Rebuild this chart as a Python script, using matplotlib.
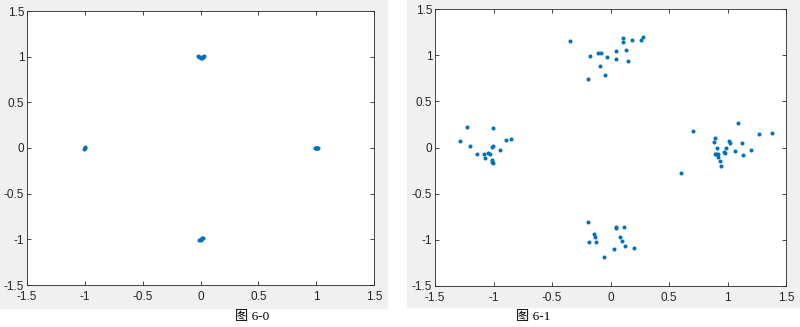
import matplotlib
matplotlib.use("Agg")
import matplotlib.pyplot as plt
from matplotlib.patches import Rectangle
from matplotlib.ticker import FuncFormatter

plt.rcParams['axes.unicode_minus'] = False

# 图 6-0 : 四个紧密的点团
x0 = [-0.02, -0.01, 0.0, 0.01, 0.02, 0.03, 0.025, 0.005,
      0.99, 1.0, 1.01, 1.02, 1.0, 1.01,
      -1.005, -1.0, -0.995,
      -0.01, 0.0, 0.01, 0.02, 0.005]
y0 = [1.005, 0.995, 0.99, 0.99, 0.995, 1.005, 1.0, 0.995,
      0.0, 0.005, 0.003, 0.0, -0.005, -0.004,
      -0.01, 0.0, 0.01,
      -1.005, -1.0, -0.99, -0.985, -1.01]

# 图 6-1 : 分散的点团
x1 = [-0.348, -0.177, -0.191, -0.111, -0.080, -0.088, -0.043, -0.029, 0.043,
      0.046, 0.108, 0.111, 0.131, 0.146, 0.188, 0.257, 0.280,
      -1.287, -1.224, -1.204, -1.141, -1.081, -1.073, -1.050, -1.030, -1.016,
      -1.007, -1.016, -1.010, -1.007, -1.001, -0.942, -0.896, -0.853,
      0.605, 0.702, 0.884, 0.893, 0.910, 0.896, 0.904, 0.919, 0.916, 0.939,
      0.947, 0.973, 0.981, 0.984, 1.010, 1.022, 1.064, 1.087, 1.121, 1.133,
      1.201, 1.270, 1.381,
      -0.191, -0.188, -0.140, -0.132, -0.128, -0.057, 0.031, 0.045, 0.048,
      0.082, 0.097, 0.117, 0.120, 0.200]
y1 = [1.153, 0.991, 0.739, 1.027, 1.020, 0.879, 0.786, 0.980, 1.045,
      0.955, 1.182, 1.142, 1.059, 0.937, 1.168, 1.164, 1.200,
      0.072, 0.227, 0.018, -0.068, -0.065, -0.119, -0.058, -0.065, 0.004,
      0.014, -0.137, -0.155, -0.169, 0.209, -0.032, 0.086, 0.094,
      -0.278, 0.184, 0.061, 0.104, 0.0, -0.069, -0.065, -0.072, -0.108, -0.148,
      -0.205, -0.051, -0.058, -0.008, 0.065, 0.050, -0.040, 0.270, 0.046, -0.083,
      -0.022, 0.147, 0.158,
      -0.808, -1.020, -0.934, -0.973, -1.020, -1.190, -1.103, -0.862, -0.876,
      -0.973, -1.010, -0.862, -1.067, -1.089]

ticks = [-1.5, -1, -0.5, 0, 0.5, 1, 1.5]
captions = ['图 6-0', '图 6-1']

fig = plt.figure(figsize=(8, 3.27), dpi=100)
fig.patch.set_facecolor('white')

# 灰色底板（放在坐标轴下面）
fig.patches.append(Rectangle((0, 19 / 327), 387 / 800, 308 / 327,
                             transform=fig.transFigure, color='#f0f0f0', zorder=-10))
fig.patches.append(Rectangle((407 / 800, 20 / 327), 393 / 800, 307 / 327,
                             transform=fig.transFigure, color='#f0f0f0', zorder=-10))

ax0 = fig.add_axes([27 / 800, 42 / 327, 347 / 800, 274 / 327])
ax1 = fig.add_axes([435 / 800, 41 / 327, 351 / 800, 277 / 327])

fmt = FuncFormatter(lambda v, p: '%g' % v)
for ax, xs, ys in [(ax0, x0, y0), (ax1, x1, y1)]:
    ax.set_zorder(5)
    ax.plot(xs, ys, '.', color='#0072BD', markersize=3.8)
    ax.set_xlim(-1.5, 1.5)
    ax.set_ylim(-1.5, 1.5)
    ax.set_xticks(ticks)
    ax.set_yticks(ticks)
    ax.xaxis.set_major_formatter(fmt)
    ax.yaxis.set_major_formatter(fmt)
    ax.tick_params(direction='in', top=True, right=True, length=3, width=0.6,
                   colors='#262626', labelsize=8.5, pad=2)
    ax.tick_params(axis='x', pad=4)
    for lbl in ax.get_xticklabels() + ax.get_yticklabels():
        lbl.set_family('Liberation Sans')
    for s in ax.spines.values():
        s.set_color('#262626')
        s.set_linewidth(0.6)

fig.text(252 / 800, 1 - 317 / 327, captions[0], ha='center', va='center',
         fontsize=9.5, family=['Liberation Serif', 'Noto Sans CJK SC'])
fig.text(533 / 800, 1 - 317 / 327, captions[1], ha='center', va='center',
         fontsize=9.5, family=['Liberation Serif', 'Noto Sans CJK SC'])

fig.savefig('out.png', dpi=100, facecolor='white')
